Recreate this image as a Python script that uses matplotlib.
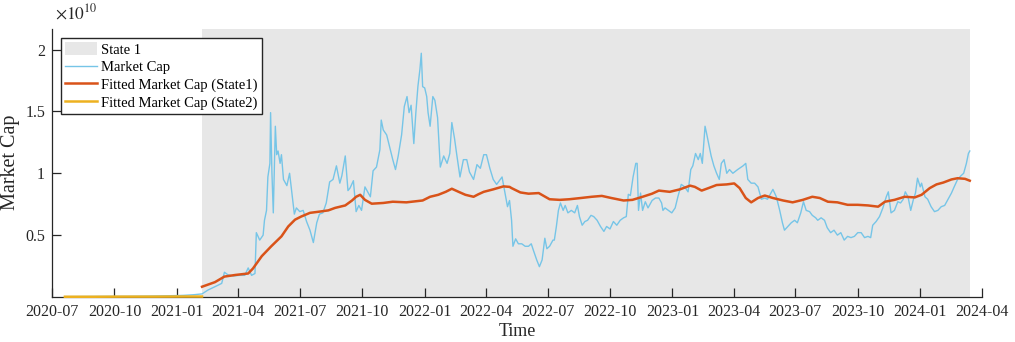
import pandas as pd
import matplotlib
matplotlib.use("Agg")
import matplotlib.pyplot as plt
import matplotlib.dates as mdates
from matplotlib.patches import Patch
from matplotlib.lines import Line2D
from matplotlib.ticker import FuncFormatter

# market cap, in units of 1e10
cap_dates = [
    "2020-07-20", "2020-08-20", "2020-09-20", "2020-10-20", "2020-11-20", "2020-12-20",
    "2021-01-10", "2021-01-25", "2021-02-07", "2021-02-16", "2021-02-26", "2021-03-08",
    "2021-03-12", "2021-03-17", "2021-03-25", "2021-04-03", "2021-04-11", "2021-04-16",
    "2021-04-21", "2021-04-26", "2021-04-28", "2021-05-03", "2021-05-08", "2021-05-10",
    "2021-05-13", "2021-05-15", "2021-05-18", "2021-05-19", "2021-05-21", "2021-05-23",
    "2021-05-26", "2021-05-28", "2021-05-30", "2021-06-02", "2021-06-04", "2021-06-07",
    "2021-06-12", "2021-06-16", "2021-06-19", "2021-06-23", "2021-06-26", "2021-07-01",
    "2021-07-06", "2021-07-11", "2021-07-16", "2021-07-21", "2021-07-26", "2021-07-30",
    "2021-08-04", "2021-08-09", "2021-08-14", "2021-08-19", "2021-08-24", "2021-08-29",
    "2021-09-01", "2021-09-06", "2021-09-10", "2021-09-13", "2021-09-18", "2021-09-22",
    "2021-09-26", "2021-09-30", "2021-10-05", "2021-10-09", "2021-10-13", "2021-10-17",
    "2021-10-22", "2021-10-27", "2021-10-29", "2021-11-01", "2021-11-06", "2021-11-10",
    "2021-11-15", "2021-11-19", "2021-11-23", "2021-11-28", "2021-12-02", "2021-12-06",
    "2021-12-09", "2021-12-12", "2021-12-16", "2021-12-19", "2021-12-22", "2021-12-25",
    "2021-12-27", "2021-12-29", "2022-01-01", "2022-01-04", "2022-01-06", "2022-01-09",
    "2022-01-13", "2022-01-16", "2022-01-20", "2022-01-24", "2022-01-29", "2022-02-03",
    "2022-02-07", "2022-02-10", "2022-02-14", "2022-02-17", "2022-02-22", "2022-02-27",
    "2022-03-04", "2022-03-08", "2022-03-14", "2022-03-19", "2022-03-24", "2022-03-29",
    "2022-04-02", "2022-04-07", "2022-04-12", "2022-04-17", "2022-04-25", "2022-04-29",
    "2022-05-03", "2022-05-06", "2022-05-09", "2022-05-11", "2022-05-15", "2022-05-19",
    "2022-05-24", "2022-05-29", "2022-06-03", "2022-06-07", "2022-06-10", "2022-06-15",
    "2022-06-19", "2022-06-23", "2022-06-27", "2022-06-30", "2022-07-04", "2022-07-09",
    "2022-07-11", "2022-07-14", "2022-07-17", "2022-07-20", "2022-07-24", "2022-07-27",
    "2022-07-31", "2022-08-05", "2022-08-10", "2022-08-14", "2022-08-17", "2022-08-21",
    "2022-08-25", "2022-08-29", "2022-09-03", "2022-09-07", "2022-09-12", "2022-09-17",
    "2022-09-22", "2022-09-26", "2022-10-01", "2022-10-06", "2022-10-11", "2022-10-16",
    "2022-10-21", "2022-10-25", "2022-10-28", "2022-10-31", "2022-11-04", "2022-11-08",
    "2022-11-10", "2022-11-12", "2022-11-15", "2022-11-18", "2022-11-22", "2022-11-26",
    "2022-12-02", "2022-12-07", "2022-12-12", "2022-12-16", "2022-12-18", "2022-12-21",
    "2022-12-26", "2022-12-31", "2023-01-05", "2023-01-09", "2023-01-14", "2023-01-19",
    "2023-01-24", "2023-01-28", "2023-01-31", "2023-02-04", "2023-02-08", "2023-02-11",
    "2023-02-14", "2023-02-18", "2023-02-20", "2023-02-24", "2023-02-27", "2023-03-03",
    "2023-03-07", "2023-03-11", "2023-03-14", "2023-03-18", "2023-03-22", "2023-03-26",
    "2023-03-31", "2023-04-07", "2023-04-15", "2023-04-19", "2023-04-22", "2023-04-27",
    "2023-05-02", "2023-05-07", "2023-05-12", "2023-05-17", "2023-05-21", "2023-05-29",
    "2023-06-03", "2023-06-08", "2023-06-12", "2023-06-15", "2023-06-20", "2023-06-25",
    "2023-06-30", "2023-07-04", "2023-07-09", "2023-07-13", "2023-07-17", "2023-07-22",
    "2023-07-26", "2023-07-31", "2023-08-03", "2023-08-08", "2023-08-13", "2023-08-17",
    "2023-08-22", "2023-08-27", "2023-09-01", "2023-09-06", "2023-09-11", "2023-09-16",
    "2023-09-21", "2023-09-26", "2023-10-01", "2023-10-06", "2023-10-11", "2023-10-16",
    "2023-10-20", "2023-10-23", "2023-10-28", "2023-11-02", "2023-11-07", "2023-11-12",
    "2023-11-15", "2023-11-19", "2023-11-24", "2023-11-29", "2023-12-03", "2023-12-07",
    "2023-12-10", "2023-12-14", "2023-12-18", "2023-12-22", "2023-12-25", "2023-12-28",
    "2024-01-01", "2024-01-03", "2024-01-08", "2024-01-12", "2024-01-17", "2024-01-22",
    "2024-01-27", "2024-02-01", "2024-02-06", "2024-02-11", "2024-02-16", "2024-02-20",
    "2024-02-25", "2024-03-01", "2024-03-05", "2024-03-09", "2024-03-12", "2024-03-14",
]
cap_values = [
    0.003, 0.004, 0.005, 0.005, 0.007, 0.010,
    0.013, 0.018, 0.025, 0.057, 0.083, 0.11,
    0.20, 0.18, 0.17, 0.175, 0.175, 0.235,
    0.175, 0.19, 0.52, 0.46, 0.50, 0.62,
    0.70, 0.97, 1.08, 1.49, 1.00, 0.68,
    1.38, 1.15, 1.18, 1.08, 1.15, 0.95,
    0.90, 1.00, 0.86, 0.67, 0.72, 0.69,
    0.70, 0.61, 0.54, 0.44, 0.60, 0.67,
    0.68, 0.76, 0.93, 0.95, 1.06, 0.92,
    0.98, 1.14, 0.86, 0.88, 0.94, 0.69,
    0.74, 0.70, 0.89, 0.85, 0.81, 1.02,
    1.05, 1.19, 1.43, 1.35, 1.31, 1.22,
    1.11, 1.03, 1.14, 1.31, 1.54, 1.62,
    1.49, 1.55, 1.24, 1.49, 1.70, 1.84,
    1.97, 1.70, 1.69, 1.62, 1.49, 1.38,
    1.62, 1.59, 1.45, 1.05, 1.14, 1.08,
    1.16, 1.41, 1.28, 1.16, 0.97, 1.11,
    1.11, 1.01, 0.95, 1.07, 1.04, 1.15,
    1.15, 1.04, 0.95, 0.91, 0.97, 0.85,
    0.73, 0.78, 0.62, 0.41, 0.47, 0.43,
    0.43, 0.41, 0.41, 0.43, 0.38, 0.30,
    0.245, 0.30, 0.475, 0.39, 0.41, 0.46,
    0.46, 0.57, 0.70, 0.76, 0.70, 0.74,
    0.68, 0.70, 0.68, 0.74, 0.65, 0.58,
    0.61, 0.62, 0.66, 0.65, 0.62, 0.57,
    0.53, 0.57, 0.55, 0.61, 0.58, 0.62,
    0.64, 0.65, 0.83, 0.82, 0.97, 1.08,
    1.08, 0.70, 0.84, 0.70, 0.77, 0.72,
    0.78, 0.80, 0.80, 0.76, 0.70, 0.72,
    0.70, 0.68, 0.72, 0.81, 0.91, 0.89,
    0.85, 1.03, 1.06, 1.16, 1.11, 1.16,
    1.08, 1.38, 1.33, 1.22, 1.14, 1.06,
    1.00, 0.95, 1.08, 1.11, 1.00, 1.03,
    1.00, 1.03, 1.06, 1.08, 0.95, 0.92,
    0.92, 0.89, 0.79, 0.80, 0.79, 0.87,
    0.81, 0.70, 0.60, 0.54, 0.57, 0.60,
    0.62, 0.60, 0.68, 0.77, 0.70, 0.69,
    0.66, 0.64, 0.62, 0.64, 0.62, 0.56,
    0.52, 0.54, 0.50, 0.52, 0.46, 0.49,
    0.48, 0.49, 0.52, 0.52, 0.48, 0.49,
    0.48, 0.58, 0.61, 0.65, 0.72, 0.81,
    0.85, 0.68, 0.70, 0.77, 0.76, 0.79,
    0.85, 0.81, 0.70, 0.79, 0.84, 0.96,
    0.89, 0.92, 0.81, 0.79, 0.73, 0.69,
    0.70, 0.73, 0.74, 0.79, 0.84, 0.89,
    0.95, 0.98, 1.00, 1.08, 1.16, 1.18,
]

# fitted market cap while in state 1
fit1_dates = [
    "2021-02-07", "2021-02-26", "2021-03-12", "2021-03-28", "2021-04-16", "2021-04-23",
    "2021-05-06", "2021-05-20", "2021-06-04", "2021-06-14", "2021-06-24", "2021-07-03",
    "2021-07-16", "2021-07-30", "2021-08-12", "2021-08-22", "2021-09-06", "2021-09-16",
    "2021-09-22", "2021-09-28", "2021-10-05", "2021-10-15", "2021-11-01", "2021-11-15",
    "2021-12-05", "2021-12-29", "2022-01-09", "2022-01-21", "2022-02-01", "2022-02-10",
    "2022-02-20", "2022-03-02", "2022-03-14", "2022-03-21", "2022-03-29", "2022-04-12",
    "2022-04-27", "2022-05-06", "2022-05-09", "2022-05-22", "2022-06-03", "2022-06-18",
    "2022-07-04", "2022-07-19", "2022-08-02", "2022-08-19", "2022-09-04", "2022-09-19",
    "2022-10-03", "2022-10-21", "2022-11-03", "2022-11-18", "2022-12-02", "2022-12-12",
    "2022-12-28", "2023-01-12", "2023-01-27", "2023-02-03", "2023-02-13", "2023-02-23",
    "2023-03-07", "2023-03-22", "2023-04-02", "2023-04-10", "2023-04-19", "2023-04-27",
    "2023-05-07", "2023-05-17", "2023-05-29", "2023-06-13", "2023-06-27", "2023-07-12",
    "2023-07-26", "2023-08-06", "2023-08-18", "2023-09-01", "2023-09-16", "2023-10-01",
    "2023-10-16", "2023-10-31", "2023-11-10", "2023-11-24", "2023-12-09", "2023-12-24",
    "2024-01-03", "2024-01-15", "2024-01-25", "2024-02-04", "2024-02-16", "2024-02-25",
    "2024-03-07", "2024-03-14",
]
fit1_values = [
    0.083, 0.12, 0.165, 0.178, 0.19, 0.23,
    0.33, 0.41, 0.49, 0.57, 0.625, 0.65,
    0.68, 0.69, 0.70, 0.72, 0.74, 0.78,
    0.81, 0.826, 0.785, 0.754, 0.76, 0.77,
    0.765, 0.78, 0.81, 0.826, 0.85, 0.875,
    0.85, 0.826, 0.81, 0.83, 0.85, 0.87,
    0.894, 0.89, 0.88, 0.845, 0.835, 0.84,
    0.79, 0.785, 0.79, 0.80, 0.81, 0.817,
    0.80, 0.78, 0.785, 0.81, 0.835, 0.86,
    0.85, 0.87, 0.90, 0.89, 0.86, 0.88,
    0.905, 0.91, 0.918, 0.88, 0.80, 0.765,
    0.80, 0.82, 0.80, 0.78, 0.765, 0.785,
    0.81, 0.80, 0.77, 0.765, 0.745, 0.745,
    0.74, 0.73, 0.77, 0.785, 0.81, 0.805,
    0.826, 0.88, 0.91, 0.925, 0.95, 0.96,
    0.955, 0.94,
]

# fitted market cap while in state 2
fit2_dates = ["2020-07-20", "2020-09-01", "2020-10-15", "2020-12-01", "2021-01-15", "2021-02-07"]
fit2_values = [0.002, 0.002, 0.003, 0.003, 0.004, 0.004]

state1_start = "2021-02-07"
state1_end = "2024-03-14"

scale = 1e10

plt.rcParams["font.family"] = ["Liberation Serif", "DejaVu Serif"]
plt.rcParams["mathtext.fontset"] = "stix"

fig = plt.figure(figsize=(10.15, 3.42), dpi=100)
ax = fig.add_axes([52 / 1015, 1 - 297 / 342, 930 / 1015, 268.5 / 342])

ax.axvspan(pd.Timestamp(state1_start), pd.Timestamp(state1_end), color="#e7e7e7", lw=0, zorder=0)
ax.plot(pd.to_datetime(cap_dates), [v * scale for v in cap_values], color="#76c5e7", lw=1.0, zorder=2)
ax.plot(pd.to_datetime(fit1_dates), [v * scale for v in fit1_values], color="#d95319", lw=1.8, zorder=3)
ax.plot(pd.to_datetime(fit2_dates), [v * scale for v in fit2_values], color="#edb120", lw=1.8, zorder=3,
        clip_on=False)

ax.set_xlim(pd.Timestamp("2020-07-01"), pd.Timestamp("2024-04-01"))
ax.set_ylim(0, 2.17e10)

ax.xaxis.set_major_locator(mdates.MonthLocator(bymonth=[1, 4, 7, 10]))
ax.xaxis.set_major_formatter(mdates.DateFormatter("%Y-%m"))
ax.set_yticks([0.5e10, 1e10, 1.5e10, 2e10])
ax.yaxis.set_major_formatter(FuncFormatter(lambda v, _: f"{v / scale:g}"))

for side in ["top", "right"]:
    ax.spines[side].set_visible(False)
for side in ["left", "bottom"]:
    ax.spines[side].set_color("#262626")
    ax.spines[side].set_linewidth(0.9)
ax.tick_params(direction="in", length=6.5, width=0.9, color="#262626", labelsize=11.5,
               labelcolor="#262626", pad=5)

ax.set_xlabel("Time", fontsize=13, color="#262626", labelpad=2)
ax.set_ylabel("Market Cap", fontsize=14.5, color="#262626", labelpad=4)
ax.text(0.003, 1.02, r"$\times10^{10}$", transform=ax.transAxes, fontsize=12.5, color="#262626",
        ha="left", va="bottom")

handles = [
    Patch(facecolor="#e7e7e7", edgecolor="none"),
    Line2D([], [], color="#76c5e7", lw=1.0),
    Line2D([], [], color="#d95319", lw=1.8),
    Line2D([], [], color="#edb120", lw=1.8),
]
labels = ["State 1", "Market Cap", "Fitted Market Cap (State1)", "Fitted Market Cap (State2)"]
leg = ax.legend(handles, labels, loc="upper left", bbox_to_anchor=(9 / 930, (297 - 38) / 268.5),
                borderaxespad=0, fontsize=10.5, frameon=True, fancybox=False, framealpha=1,
                edgecolor="#262626", handlelength=2.2, handleheight=0.95, handletextpad=0.25,
                labelspacing=0.22, borderpad=0.3)
leg.get_frame().set_linewidth(1.0)

plt.savefig("out.png", dpi=100)
